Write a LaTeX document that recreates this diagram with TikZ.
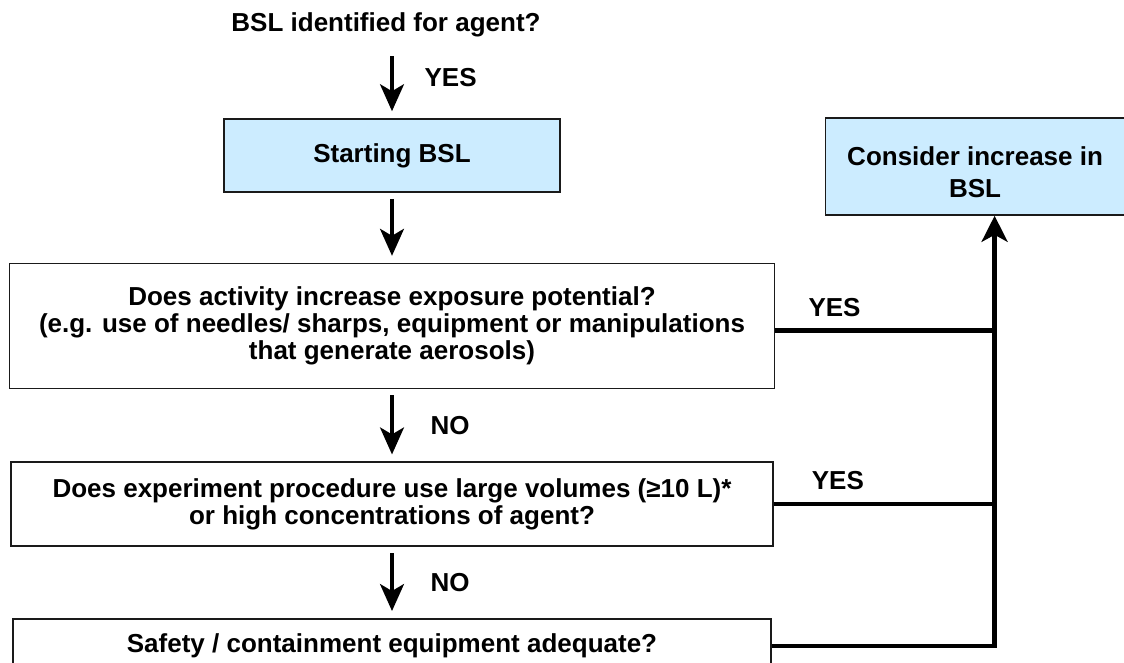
\documentclass[tikz,border=0pt]{standalone}
\usepackage{fontspec}
\setmainfont{Liberation Sans}
\usetikzlibrary{arrows.meta,positioning}
\definecolor{boxline}{HTML}{1A1A1A}
\definecolor{bslfill}{HTML}{CCECFF}

\begin{document}
\begin{tikzpicture}[x=1pt, y=1pt,
  font=\fontsize{26}{27}\selectfont\bfseries,
  box/.style={draw=boxline, line width=1.6pt, align=center, inner sep=0pt},
  bsl/.style={box, fill=bslfill},
  ask/.style={box, fill=white},
  lbl/.style={inner sep=0pt},
  down/.style={-{Stealth[length=27pt, width=24pt, inset=7pt]}, line width=3.2pt,
               shorten <=6pt, shorten >=7pt},
  link/.style={line width=4.5pt},
  up/.style={link, -{Stealth[length=26pt, width=26pt, inset=7pt]}},
]
\useasboundingbox (0,0) rectangle (1124,-663);
\fill[white] (0,0) rectangle (1124,-663);
\clip (0,0) rectangle (1124,-663);
% main chain of questions
\node[bsl, minimum width=336pt, minimum height=73pt] (start) at (392,-155.5) {Starting BSL};
\node[lbl] (q0) at (386,-25) {BSL identified for agent?};
\node[ask, below=70pt of start, minimum width=765pt, minimum height=125pt] (act)
  {Does activity increase exposure potential?\\(e.g. use of needles/ sharps, equipment or manipulations\\that generate aerosols)};
\node[ask, below=72pt of act, minimum width=762pt, minimum height=84pt] (vol)
  {Does experiment procedure use large volumes (≥10 L)*\\or high concentrations of agent?};
\node[ask, below=71pt of vol, minimum width=758pt, minimum height=54pt] (safe)
  {Safety / containment equipment adequate?};
\node[bsl, right=264pt of start, yshift=-11pt, minimum width=299pt, minimum height=97pt,
      font=\fontsize{26}{32}\selectfont\bfseries] (inc) {\rule{0pt}{30pt}Consider increase in\\BSL};
% downward answers
\draw[down, shorten <=19pt] (q0.south -| start.north) -- node[lbl, anchor=west, xshift=31pt]{YES} (start.north);
\draw[down] (start) -- (act);
\draw[down] (act) -- node[lbl, anchor=west, xshift=37pt]{NO} (vol);
\draw[down] (vol) -- node[lbl, anchor=west, xshift=37pt]{NO} (safe);
% YES branches to the right
\coordinate (join) at ([xshift=19.5pt]inc.south);
\draw[up] (safe.east) -| (join);
\draw[link] ([yshift=-4.5pt]act.east) -- node[lbl, pos=0.27, above=12pt]{YES} ([yshift=-4.5pt]act.east -| join);
\draw[link] (vol.east) -- node[lbl, pos=0.29, above=12pt]{YES} (vol.east -| join);
\end{tikzpicture}
\end{document}
